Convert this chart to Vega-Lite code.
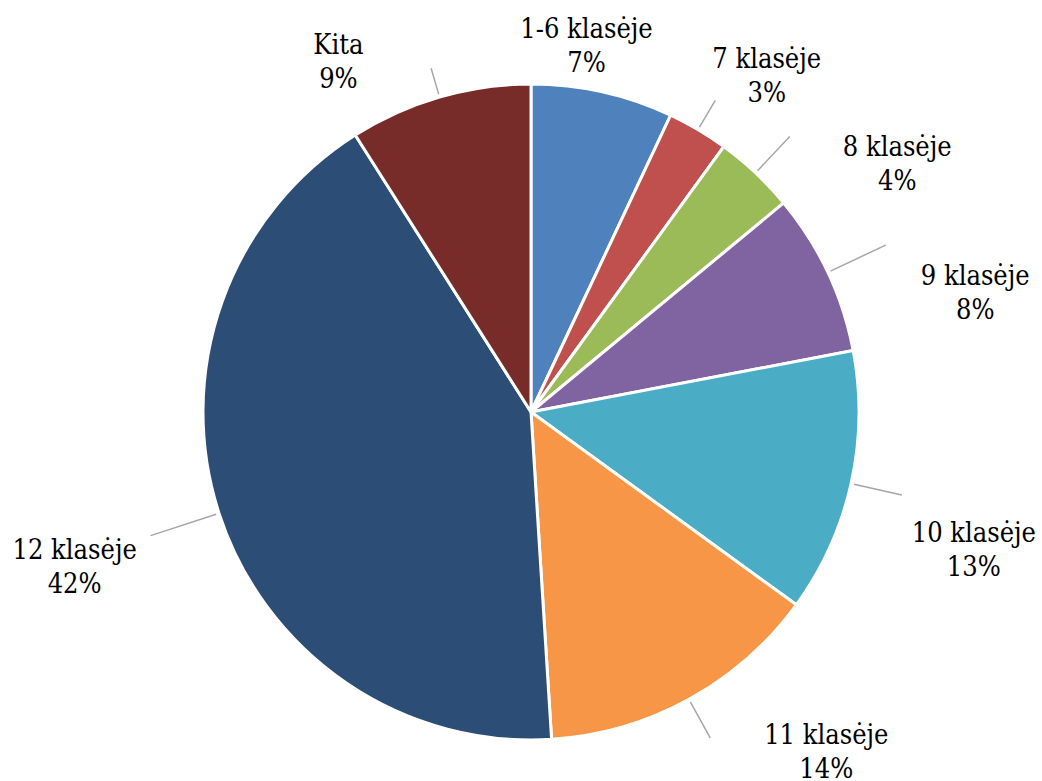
{
  "$schema": "https://vega.github.io/schema/vega-lite/v6.json",
  "width": 1022,
  "height": 738,
  "autosize": "none",
  "padding": {"left": 20, "top": 43, "right": 0, "bottom": 0},
  "background": "white",
  "config": {"view": {"stroke": null}},
  "data": {
    "values": [
      {"i": 1, "cat": "1-6 klasėje", "share": 0.07},
      {"i": 2, "cat": "7 klasėje", "share": 0.03},
      {"i": 3, "cat": "8 klasėje", "share": 0.04},
      {"i": 4, "cat": "9 klasėje", "share": 0.08},
      {"i": 5, "cat": "10 klasėje", "share": 0.13},
      {"i": 6, "cat": "11 klasėje", "share": 0.14},
      {"i": 7, "cat": "12 klasėje", "share": 0.42},
      {"i": 8, "cat": "Kita", "share": 0.09}
    ]
  },
  "encoding": {
    "theta": {"field": "share", "type": "quantitative", "stack": true},
    "order": {"field": "i", "type": "quantitative"}
  },
  "layer": [
    {
      "mark": {"type": "arc", "radius": 328, "stroke": "white", "strokeWidth": 3},
      "encoding": {
        "color": {
          "field": "cat",
          "type": "nominal",
          "scale": {
            "domain": ["1-6 klasėje", "7 klasėje", "8 klasėje", "9 klasėje", "10 klasėje", "11 klasėje", "12 klasėje", "Kita"],
            "range": ["#4F81BD", "#C0504D", "#9BBB59", "#8064A2", "#4BACC6", "#F79646", "#2C4D75", "#772C2A"]
          },
          "legend": null
        }
      }
    },
    {
      "mark": {
        "type": "arc",
        "radius": {"expr": "[340,362,378,392,380,372,400,358][datum.i-1]"},
        "radius2": 331,
        "padAngle": 3.14,
        "filled": false,
        "fill": "transparent",
        "stroke": "#A6A6A6",
        "strokeWidth": 1.5
      },
      "encoding": {
        "strokeOpacity": {"condition": {"test": "datum.i == 1", "value": 0}, "value": 1}
      }
    },
    {
      "mark": {
        "type": "text",
        "font": "DejaVu Serif Condensed",
        "fontSize": 27,
        "color": "black",
        "radius": {"expr": "[369,410,440,460,464,451,483,400][datum.i-1]"},
        "dx": {"expr": "[-25,27,65,28,-10,78,3,-81][datum.i-1]"},
        "dy": {"expr": "[-5,18,74,78,38,-54,7,35][datum.i-1] - 17"}
      },
      "encoding": {"text": {"field": "cat", "type": "nominal"}}
    },
    {
      "mark": {
        "type": "text",
        "font": "DejaVu Serif Condensed",
        "fontSize": 27,
        "color": "black",
        "radius": {"expr": "[369,410,440,460,464,451,483,400][datum.i-1]"},
        "dx": {"expr": "[-25,27,65,28,-10,78,3,-81][datum.i-1]"},
        "dy": {"expr": "[-5,18,74,78,38,-54,7,35][datum.i-1] + 17"}
      },
      "encoding": {"text": {"field": "share", "type": "quantitative", "format": ".0%"}}
    }
  ]
}
